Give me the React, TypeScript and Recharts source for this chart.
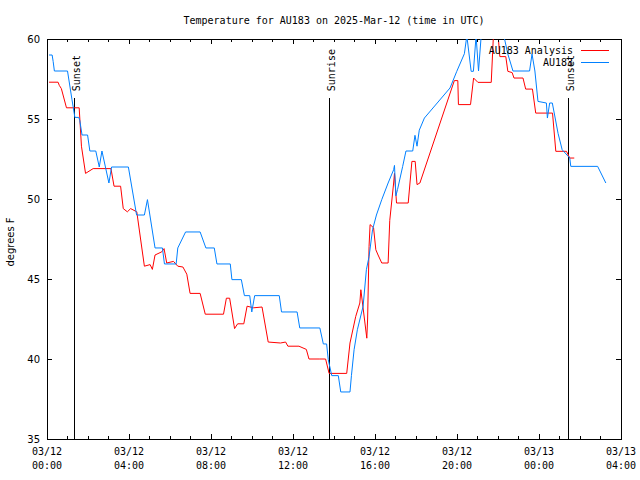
import { Line, LineChart, ReferenceArea, ReferenceLine, XAxis, YAxis } from "recharts";

// hours since 03/12 00:00 UTC, temperatures in degrees F
const analysisHours = [
  0.1, 0.54, 0.6, 0.7, 0.95, 1.57, 1.68, 1.88, 2.25, 3.12, 3.27, 3.59, 3.72, 3.92, 4.08, 4.38,
  4.75, 5.03, 5.14, 5.27, 5.6, 5.71, 5.84, 6.17, 6.38, 6.63, 6.82, 6.98, 7.47, 7.72, 8.61, 8.75,
  8.91, 9.15, 9.3, 9.6, 9.76, 10.08, 10.49, 10.79, 11.39, 11.64, 11.75, 12.29, 12.65, 12.78, 13.31, 13.59,
  13.76, 14.62, 14.78, 15.06, 15.26, 15.31, 15.6, 15.64, 15.71, 15.76, 15.93, 16.04, 16.15, 16.33, 16.64, 16.72,
  16.91, 16.95, 17.05, 17.62, 17.8, 17.96, 18.05, 18.19, 19.87, 20.04, 20.07, 20.66, 20.81, 21.02, 21.67, 21.78,
  22.0, 22.09, 22.38, 22.48, 22.69, 22.78, 23.22, 23.35, 23.68, 23.84, 24.66, 24.82, 25.34, 25.5, 25.72,
];
const analysisTemps = [
  57.3, 57.3, 57.1, 56.9, 55.7, 55.7, 53.3, 51.6, 51.9, 51.9, 50.8, 50.8, 49.4, 49.2, 49.4, 49.2,
  45.8, 45.9, 45.6, 46.5, 46.7, 46.9, 46.0, 46.1, 45.8, 45.75, 45.3, 44.1, 44.1, 42.8, 42.8, 43.8,
  43.8, 41.9, 42.2, 42.2, 43.3, 43.2, 43.25, 41.06, 41.0, 41.06, 40.8, 40.8, 40.6, 40.0, 40.0, 40.0,
  39.1, 39.1, 41.0, 42.66, 43.5, 44.33, 41.3, 42.5, 47.04, 48.4, 48.2, 46.83, 46.5, 46.0, 46.0, 48.66,
  51.0, 51.6, 49.75, 49.75, 52.35, 52.35, 50.9, 51.0, 57.4, 57.4, 55.9, 55.9, 57.56, 57.29, 57.29, 60.3,
  60.3, 58.9, 58.9, 57.98, 57.9, 57.56, 57.56, 56.87, 56.87, 55.37, 55.37, 52.98, 52.98, 52.56, 52.56,
];

const obsHours = [
  0.1, 0.25, 0.3, 0.36, 1.0, 1.22, 1.36, 1.55, 1.6, 1.71, 1.98, 2.09, 2.38, 2.55, 2.68, 3.02,
  3.15, 3.97, 4.37, 4.75, 4.9, 5.27, 5.63, 5.73, 6.3, 6.38, 6.76, 7.47, 7.75, 8.16, 8.29, 8.94,
  9.02, 9.48, 9.63, 9.89, 9.99, 10.13, 11.33, 11.44, 12.2, 12.33, 13.31, 13.48, 13.64, 13.72, 13.89, 14.21,
  14.33, 14.78, 14.85, 14.98, 15.14, 15.42, 15.58, 15.71, 15.88, 16.07, 16.33, 16.64, 16.91, 16.95, 17.02, 17.1,
  17.35, 17.51, 17.84, 17.95, 18.05, 18.16, 18.41, 19.66, 19.99, 20.36, 20.48, 20.69, 20.8, 20.93, 21.05, 21.18,
  21.5, 22.0, 22.32, 22.48, 22.73, 23.54, 23.66, 23.8, 23.95, 24.36, 24.41, 24.52, 24.65, 24.93, 25.13, 25.5,
  25.55, 26.86, 27.26,
];
const obsTemps = [
  59.0, 59.0, 58.6, 58.0, 58.0, 56.2, 55.1, 55.1, 54.9, 54.0, 54.0, 53.0, 53.0, 52.0, 53.0, 51.0,
  52.0, 52.0, 49.0, 49.0, 49.96, 46.94, 46.94, 45.94, 45.94, 46.94, 47.94, 47.94, 46.94, 46.94, 45.94, 45.94,
  44.96, 44.96, 43.96, 43.96, 42.94, 43.96, 43.96, 42.94, 42.94, 41.94, 41.94, 40.94, 40.94, 39.96, 38.96, 38.96,
  37.94, 37.94, 38.96, 40.58, 41.83, 43.3, 45.58, 46.4, 48.08, 49.0, 49.96, 51.0, 51.83, 52.1, 50.2, 50.6,
  52.04, 53.0, 53.0, 53.98, 53.3, 54.3, 55.06, 56.94, 57.98, 59.08, 60.2, 57.98, 57.98, 60.2, 58.0, 60.2,
  61.0, 61.0, 60.0, 59.06, 58.0, 58.0, 59.06, 58.0, 56.1, 56.0, 55.06, 56.0, 56.0, 54.1, 53.08, 52.56,
  52.04, 52.04, 51.0,
];

const sunNames = ["Sunset", "Sunrise", "Sunset"];
const sunHours = [1.36, 13.8, 25.45];

const hourTicks = Array.from({ length: 29 }, (_, i) => i);
const tempTicks = [35, 40, 45, 50, 55, 60];

const analysisData = analysisHours.map((h, i) => ({ hour: h, temp: analysisTemps[i] }));
const obsData = obsHours.map((h, i) => ({ hour: h, temp: obsTemps[i] }));

const MONO = "'DejaVu Sans Mono', 'Liberation Mono', monospace";
const SANS = "'DejaVu Sans', 'Liberation Sans', sans-serif";
const PLOT_W = 574;
const PLOT_H = 400;
const SUN_LINE_TOP = 56.3;

function XTick({ x, y, payload }: any) {
  const h = payload.value as number;
  const major = h % 4 === 0;
  const len = major ? 5 : 3;
  const day = h >= 24 ? "03/13" : "03/12";
  const hh = String(h % 24).padStart(2, "0");
  return (
    <g shapeRendering="crispEdges">
      <line x1={x} x2={x} y1={y} y2={y - len} stroke="#000" />
      <line x1={x} x2={x} y1={y - PLOT_H} y2={y - PLOT_H + len} stroke="#000" />
      {major && (
        <text x={x} y={y + 16} textAnchor="middle" fontFamily={MONO} fontSize={10} fill="#000">
          <tspan x={x}>{day}</tspan>
          <tspan x={x} dy={14}>{hh}:00</tspan>
        </text>
      )}
    </g>
  );
}

function YTick({ x, y, payload }: any) {
  return (
    <g shapeRendering="crispEdges">
      <line x1={x} x2={x + 5} y1={y} y2={y} stroke="#000" />
      <line x1={x + PLOT_W} x2={x + PLOT_W - 5} y1={y} y2={y} stroke="#000" />
      <text x={x - 7} y={y + 4} textAnchor="end" fontFamily={SANS} fontSize={10} fill="#000">
        {payload.value}
      </text>
    </g>
  );
}

const sunLabel = (name: string) => (props: any) => {
  const vb = props.viewBox;
  const tx = vb.x + 5;
  const ty = vb.y - 7;
  return (
    <text x={tx} y={ty} transform={`rotate(-90 ${tx} ${ty})`} fontFamily={MONO} fontSize={10} fill="#000">
      {name}
    </text>
  );
};

const legendRows = [
  { name: "AU183 Analysis", color: "#ff0000" },
  { name: "AU183", color: "#0080ff" },
];

export default function App() {
  return (
    <div style={{ position: "absolute", left: 0, top: 0, width: 640, height: 480, background: "#fff" }}>
      <LineChart width={640} height={480} margin={{ top: 39, right: 19, bottom: 0, left: 0 }}>
        <XAxis
          type="number"
          dataKey="hour"
          domain={[0, 28]}
          ticks={hourTicks}
          interval={0}
          allowDataOverflow
          height={41}
          tickSize={0}
          tickMargin={0}
          axisLine={false}
          tickLine={false}
          tick={(p: any) => <XTick {...p} />}
        />
        <YAxis
          type="number"
          dataKey="temp"
          domain={[35, 60]}
          ticks={tempTicks}
          interval={0}
          allowDataOverflow
          width={47}
          tickSize={0}
          tickMargin={0}
          axisLine={false}
          tickLine={false}
          tick={(p: any) => <YTick {...p} />}
        />
        <ReferenceArea x1={0} x2={28} y1={35} y2={60} fill="none" stroke="#000" shapeRendering="crispEdges" />
        {sunHours.map((h, i) => (
          <ReferenceLine
            key={i}
            segment={[{ x: h, y: 35 }, { x: h, y: SUN_LINE_TOP }]}
            stroke="#000"
            shapeRendering="crispEdges"
            label={sunLabel(sunNames[i])}
          />
        ))}
        <Line
          data={analysisData}
          dataKey="temp"
          type="linear"
          stroke="#ff0000"
          strokeWidth={1}
          dot={false}
          isAnimationActive={false}
        />
        <Line
          data={obsData}
          dataKey="temp"
          type="linear"
          stroke="#0080ff"
          strokeWidth={1}
          dot={false}
          isAnimationActive={false}
        />
      </LineChart>
      <svg width={640} height={480} style={{ position: "absolute", left: 0, top: 0, pointerEvents: "none" }}>
        <text x={334} y={24} textAnchor="middle" fontFamily={MONO} fontSize={10} fill="#000">
          Temperature for AU183 on 2025-Mar-12 (time in UTC)
        </text>
        <text x={14} y={242} transform="rotate(-90 14 242)" textAnchor="middle" fontFamily={SANS} fontSize={10} fill="#000">
          degrees F
        </text>
        {legendRows.map((r, i) => (
          <g key={r.name}>
            <text x={573} y={54 + i * 12} textAnchor="end" fontFamily={MONO} fontSize={10} fill="#000">
              {r.name}
            </text>
            <line x1={581} x2={609} y1={50.5 + i * 12} y2={50.5 + i * 12} stroke={r.color} />
          </g>
        ))}
      </svg>
    </div>
  );
}
